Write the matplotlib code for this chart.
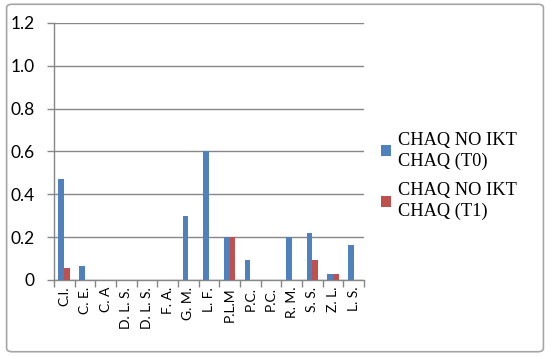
import matplotlib
matplotlib.use("Agg")
import matplotlib.pyplot as plt
from matplotlib.patches import FancyBboxPatch
import numpy as np

categories = ["C.I.", "C. E.", "C. A", "D. L. S.", "D. L. S.", "F. A.", "G. M.", "L. F.",
              "P.L.M", "P.C.", "P.C.", "R. M.", "S. S.", "Z. L.", "L. S."]
t0 = [0.47, 0.065, 0, 0, 0, 0, 0.30, 0.60, 0.20, 0.095, 0, 0.20, 0.22, 0.03, 0.165]
t1 = [0.055, 0, 0, 0, 0, 0, 0, 0, 0.20, 0, 0, 0, 0.095, 0.03, 0]
series_names = ["CHAQ NO IKT\nCHAQ (T0)", "CHAQ NO IKT\nCHAQ (T1)"]
yticks = [0, 0.2, 0.4, 0.6, 0.8, 1.0, 1.2]
ytick_labels = ["0", "0.2", "0.4", "0.6", "0.8", "1.0", "1.2"]

fig = plt.figure(figsize=(5.5, 3.56), dpi=100)
ax = fig.add_axes([0.098, 0.2135, 0.564, 0.722])

x = np.arange(len(categories))
w = 0.28
b0 = ax.bar(x - w / 2, t0, width=w, color="#4F81BD", label=series_names[0], zorder=3)
b1 = ax.bar(x + w / 2, t1, width=w, color="#C0504D", label=series_names[1], zorder=3)

ax.set_xlim(-0.5, len(categories) - 0.5)
ax.set_ylim(0, 1.2)
ax.set_yticks(yticks)
ax.set_yticklabels(ytick_labels, fontsize=12.5, family="Lato")
ax.yaxis.grid(True, color="#868686", linewidth=1, zorder=0)
ax.set_axisbelow(True)

ax.set_xticks(x)
ax.set_xticklabels(categories, rotation=90, fontsize=10, family="Lato")
ax.tick_params(axis="x", length=0, pad=5)
ax.set_xticks(np.arange(-0.5, len(categories)), minor=True)
ax.tick_params(axis="x", which="minor", length=5, color="#868686", width=1)
ax.tick_params(axis="y", length=5, color="#868686", width=1, pad=9)

for s in ["top", "right"]:
    ax.spines[s].set_visible(False)
for s in ["left", "bottom"]:
    ax.spines[s].set_color("#868686")
    ax.spines[s].set_linewidth(1)

leg = fig.legend(handles=[b0, b1], labels=series_names, loc="upper left",
                 bbox_to_anchor=(0.68, 0.65), frameon=False,
                 prop={"family": "Liberation Serif", "size": 13.2},
                 handlelength=0.55, handleheight=0.55, handletextpad=0.35,
                 labelspacing=0.7, alignment="left", borderaxespad=0)
for t in leg.get_texts():
    t.set_linespacing(1.25)

border = FancyBboxPatch((0.012, 0.012), 0.976, 0.976, boxstyle="round,pad=0,rounding_size=0.01",
                        transform=fig.transFigure, fill=False, edgecolor="#A6A6A6", linewidth=1.2)
fig.patches.append(border)

fig.savefig("out.png", dpi=100)
